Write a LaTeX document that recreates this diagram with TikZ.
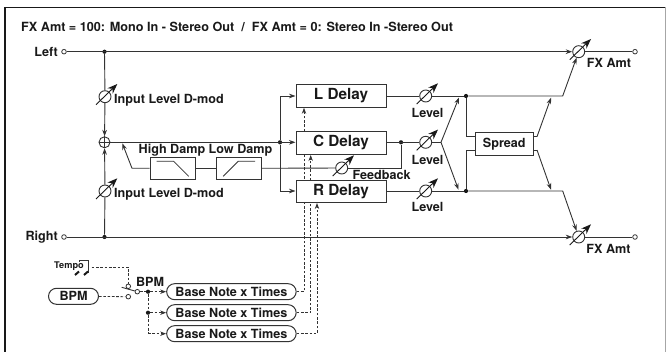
\documentclass[tikz,border=0pt]{standalone}
\usepackage{fontspec}
\setmainfont{TeX Gyre Heros}
\usetikzlibrary{arrows.meta,calc}
\definecolor{ink}{gray}{0.2}
\definecolor{inkb}{gray}{0.1}
\tikzset{
  wire/.style={draw=ink,line width=0.9pt},
  arr/.style={wire,-{Stealth[length=6.5pt,width=4.6pt]}},
  dashwire/.style={wire,line width=0.8pt,dash pattern=on 2.6pt off 1.7pt},
  dasharr/.style={dashwire,-{Stealth[length=6pt,width=4.4pt]}},
  lab/.style={font=\bfseries\fontsize{12.6}{13}\selectfont,text=inkb,inner sep=0pt},
  box/.style={draw=ink,fill=white,line width=1pt,inner sep=0pt},
  delaybox/.style={box,minimum width=90pt,minimum height=22.5pt,font=\bfseries\fontsize{15.3}{16}\selectfont,text=inkb},
  dampbox/.style={box,minimum width=45pt,minimum height=22pt},
  notebox/.style={box,rounded corners=8pt,minimum width=129.5pt,minimum height=16pt,font=\bfseries\fontsize{12.6}{13}\selectfont,text=inkb},
  port/.style={circle,draw=ink,fill=white,line width=0.8pt,minimum size=4.6pt,inner sep=0pt},
  dot/.style={circle,fill=inkb,minimum size=4.2pt,inner sep=0pt},
  vca/.style={circle,draw=ink,fill=white,line width=0.9pt,minimum size=12pt,inner sep=0pt},
  slash/.style={draw=inkb,line width=0.9pt,-{Stealth[length=10pt,width=7.5pt]}},
}
\begin{document}
\begin{tikzpicture}[x=1pt,y=-1pt]
\useasboundingbox (0,0) rectangle (666,352);
% frame
\draw[draw=inkb,line width=1.1pt] (5,352) -- (5,7.5) -- (665.5,7.5);
\draw[draw=gray!70,line width=0.7pt] (665.5,7.5) -- (665.5,352);
% title
\node[lab,anchor=base west,font=\bfseries\fontsize{12.65}{13}\selectfont] (title) at (21,32) {FX Amt = 100: Mono In - Stereo Out\ \ /\ \ FX Amt = 0: Stereo In -Stereo Out};
% nodes
\node[port] (inL) at (64,51.7) {};
\node[port] (inR) at (64,237) {};
\node[port] (outL) at (635,51.7) {};
\node[port] (outR) at (635,237) {};
\node[dot] (dL) at (104.5,51.7) {};
\node[dot] (dR) at (104.5,237) {};
\node[vca] (vIn1) at (105,96.7) {};
\node[vca] (vIn2) at (105,191) {};
\node[circle,draw=ink,fill=white,line width=0.9pt,minimum size=11pt,inner sep=0pt] (sum) at (104.5,142.3) {};
\node[dot] (dC) at (280,142.3) {};
\node[vca] (vFb) at (341.7,168) {};
\node[vca] (vL) at (425.7,96) {};
\node[vca] (vC) at (425.7,142.3) {};
\node[vca] (vR) at (425.7,191) {};
\node[vca] (vOutL) at (578.7,51.7) {};
\node[vca] (vOutR) at (578.7,237) {};
\node[dot] (dFb) at (401,142.3) {};
\node[dot] (dSL) at (466,96) {};
\node[dot] (dSR) at (466,191) {};
\coordinate (cLin) at (280,96);
\coordinate (cRin) at (280,191);
\coordinate (cFb) at (401,168);
\coordinate (cFbin) at (132,168.3);
\coordinate (cFbout) at (122.3,143.3);
\coordinate (cSplit) at (441,142.3);
\coordinate (cTipL) at (459,97.5);
\coordinate (cTipR) at (458.5,189.7);
\coordinate (cBendL) at (562.7,96);
\coordinate (cBendR) at (562.7,191);
\coordinate (cSTL) at (466,136.7);
\coordinate (cSBL) at (466,150);
\coordinate (cSTR) at (537,136.7);
\coordinate (cSBR) at (537,150);
\coordinate (cSTipL) at (551,97.7);
\coordinate (cSTipR) at (551,189.7);
% dashed control lines (behind the boxes)
\node[notebox] (n1) at (231.4,291.7) {Base Note x Times};
\node[notebox] (n2) at (231.4,312.7) {Base Note x Times};
\node[notebox] (n3) at (231.4,333.7) {Base Note x Times};
\coordinate (cN1) at (304,291.7);
\coordinate (cN2) at (310.7,312.7);
\coordinate (cN3) at (317,333.7);
\coordinate (cL) at (304,107.8);
\coordinate (cC) at (310.7,155);
\coordinate (cR) at (317,203);
\draw[dasharr] (n1.east) -- (cN1) -- (cL);
\draw[dasharr] (n2.east) -- (cN2) -- (cC);
\draw[dasharr] (n3.east) -- (cN3) -- (cR);
% delay boxes
\node[delaybox] (lD) at (341,96) {L Delay};
\node[delaybox] (cD) at (341,143) {C Delay};
\node[delaybox] (rD) at (341,191.3) {R Delay};
\node[box,minimum width=58pt,minimum height=22.6pt,font=\bfseries\fontsize{12.6}{13}\selectfont,text=inkb] (spread) at (504.3,144) {Spread};
\node[dampbox] (hd) at (172.7,168.3) {};
\node[dampbox] (ld) at (239.2,168.3) {};
% filter curves
\draw[wire,line width=0.8pt] ($(hd)+(-16,-7)$) -- ($(hd)+(1,-7)$) -- ($(hd)+(16,8)$);
\draw[wire,line width=0.8pt] ($(ld)+(-16,8)$) -- ($(ld)+(-1,-7)$) -- ($(ld)+(16,-7)$);
% wires
\draw[arr] (inL) -- (vOutL);
\draw[wire] (vOutL) -- (outL);
\draw[arr] (inR) -- (vOutR);
\draw[wire] (vOutR) -- (outR);
\draw[wire] (dL) -- (vIn1);
\draw[arr] (vIn1) -- (sum);
\draw[wire] (dR) -- (vIn2);
\draw[arr] (vIn2) -- (sum);
\draw[wire] (sum.north) -- (sum.south) (sum.west) -- (sum.east);
\draw[arr] (sum) -- (cD.west |- sum);
\draw[arr] (dC) |- (lD.west |- cLin);
\draw[arr] (dC) |- (rD.west |- cRin);
\draw[arr] (hd.west |- cFbin) -- (cFbin) -- (cFbout);
\draw[wire] (ld.west) -- (hd.east);
\draw[wire] (ld.east) -- (vFb);
\draw[wire] (vFb) -- (cFb) -- (dFb);
\draw[wire] (lD.east |- vL) -- (vL);
\draw[wire] (vL) -- (dSL);
\draw[wire] (cD.east |- vC) -- (vC);
\draw[wire] (vC) -- (cSplit);
\draw[wire] (rD.east |- vR) -- (vR);
\draw[wire] (vR) -- (dSR);
\draw[arr] (cSplit) -- (cTipL);
\draw[arr] (cSplit) -- (cTipR);
\draw[arr] (dSL) -- (cBendL) -- (vOutL);
\draw[arr] (dSR) -- (cBendR) -- (vOutR);
\draw[wire] (dSL) -- (cSTL) -- (spread.west |- cSTL);
\draw[wire] (dSR) -- (cSBL) -- (spread.west |- cSBL);
\draw[wire] (spread.east |- cSTR) -- (cSTR);
\draw[wire] (spread.east |- cSBR) -- (cSBR);
\draw[arr] (cSTR) -- (cSTipL);
\draw[arr] (cSBR) -- (cSTipR);
% slashes through the level circles
\foreach \n in {vIn1,vIn2,vFb,vL,vC,vR,vOutL,vOutR}{
  \draw[slash] ($(\n)+(-9,8)$) -- ($(\n)+(12.3,-12.7)$);
}
% labels
\node[lab,anchor=east] (tLeft) at (58,51.7) {Left};
\node[lab,anchor=east] (tRight) at (58,237) {Right};
\node[lab,anchor=west] (tIn1) at (114,100.5) {Input Level D-mod};
\node[lab,anchor=west] (tIn2) at (114,194.5) {Input Level D-mod};
\node[lab] (tHD) at (172,150) {High Damp};
\node[lab] (tLD) at (240.5,150) {Low Damp};
\node[lab] (tL1) at (427.5,112.7) {Level};
\node[lab] (tL2) at (427.5,159.7) {Level};
\node[lab] (tL3) at (427.5,206.7) {Level};
\node[lab,anchor=west] (tFb) at (352.3,174.5) {Feedback};
\node[lab] (tFx1) at (609,63) {FX Amt};
\node[lab] (tFx2) at (608.5,248.7) {FX Amt};
% tempo and BPM
\node[lab,font=\bfseries\fontsize{9.2}{10}\selectfont,anchor=west] (tempo) at (54,266) {Tempo};
\draw[wire] (79.3,261.8) -- (79.3,260) -- (88.3,260) -- (88.3,273);
\draw[inkb,line width=2pt] (75,275) -- (79,271.5) (84,275) -- (88,271.5);
\node[notebox,minimum width=50pt] (bpm) at (73.5,296.3) {BPM};
\node[lab] (tBpm) at (150,281.5) {BPM};
\node[port] (sw1) at (128.3,286.3) {};
\node[port] (sw2) at (128.3,296.7) {};
\node[port] (swO) at (137.3,291.7) {};
\coordinate (cArmA) at (121.7,287.3);
\coordinate (cTempo) at (91.7,267);
\coordinate (cTc) at (128.3,267);
\draw[wire] (cArmA) -- (swO);
\draw[dashwire] (cTempo) -- (cTc) -- (sw1);
\draw[dashwire] (bpm) -- (sw2);
\node[dot] (d1) at (148,291.7) {};
\node[dot] (d2) at (148,312.7) {};
\coordinate (cB3) at (148,333.7);
\draw[dashwire] (swO) -- (d1);
\draw[dasharr] (d1) -- (n1);
\draw[dasharr] (d2) -- (n2);
\draw[dashwire] (d1) -- (d2);
\draw[dashwire] (d2) -- (cB3);
\draw[dasharr] (cB3) -- (n3);
\end{tikzpicture}
\end{document}
